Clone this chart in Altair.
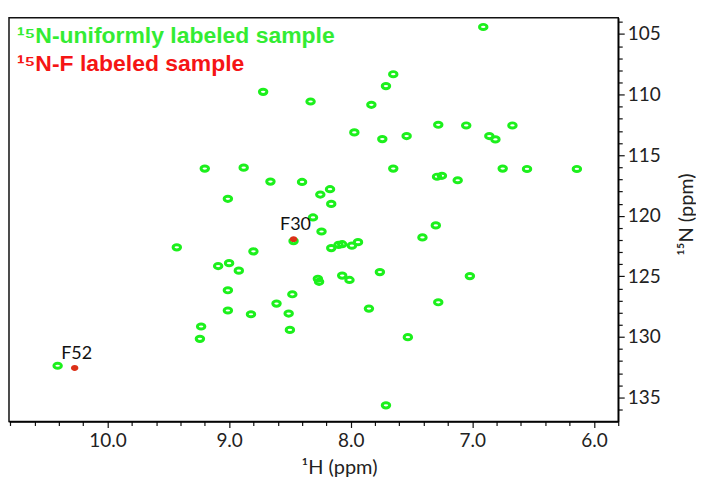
import altair as alt
import pandas as pd

# ---- data ----
green_H = [8.72, 8.33, 7.71, 7.83, 7.97, 7.74, 9.20, 8.88, 8.66, 8.40,
           8.17, 8.25, 8.16, 9.01, 6.91, 7.65, 7.28, 7.05, 6.67, 7.54,
           6.86, 6.81, 7.65, 7.29, 7.25, 7.12, 6.75, 6.55, 6.14, 8.31,
           8.24, 8.47, 9.43, 8.80, 8.16, 8.10, 8.07, 7.99, 7.94, 9.09,
           9.00, 8.92, 7.76, 8.27, 8.26, 8.07, 8.01, 9.01, 8.48, 8.61,
           9.01, 8.82, 8.51, 7.85, 9.23, 8.50, 9.24, 7.30, 7.41, 7.02,
           7.28, 7.53, 7.71, 10.41]
green_N = [109.77, 110.57, 109.30, 110.84, 113.12, 113.67, 116.11, 116.03, 117.18, 117.21,
           117.81, 118.25, 119.02, 118.60, 104.42, 108.32, 112.49, 112.55, 112.55, 113.42,
           113.42, 113.70, 116.11, 116.78, 116.70, 117.07, 116.11, 116.14, 116.14, 120.14,
           121.30, 122.09, 122.61, 122.94, 122.67, 122.40, 122.35, 122.47, 122.18, 124.15,
           123.91, 124.53, 124.65, 125.20, 125.45, 124.94, 125.30, 126.15, 126.48, 127.25,
           127.82, 128.13, 128.07, 127.66, 129.14, 129.42, 130.16, 120.80, 121.79, 124.98,
           127.14, 130.02, 135.65, 132.38]

red_H = [8.47, 10.27]
red_N = [121.93, 132.57]
red_labels = ["F30", "F52"]

x_major = [6.0, 7.0, 8.0, 9.0, 10.0]
y_major = [105, 110, 115, 120, 125, 130, 135]
x_ticks = [round(5.8 + 0.2 * i, 1) for i in range(26)]
y_ticks = list(range(104, 137))

legend_lines = ["¹⁵N-uniformly labeled sample", "¹⁵N-F labeled sample"]
legend_colors = ["#33ec33", "#f51515"]

green_df = pd.DataFrame({"H": green_H, "N": green_N})
red_df = pd.DataFrame({"H": red_H, "N": red_N, "label": red_labels})

W, H = 611, 405

is_major_x = "abs(datum.value - round(datum.value)) < 0.01"
is_major_y = "datum.value % 5 === 0"

x_scale = alt.Scale(domain=[5.80, 10.81], reverse=True, nice=False, zero=False)
y_scale = alt.Scale(domain=[103.65, 136.98], reverse=True, nice=False, zero=False)

x_axis = alt.Axis(
    values=x_ticks,
    labelExpr=f"{is_major_x} ? format(datum.value, '.1f') : ''",
    tickSize={"condition": {"test": is_major_x, "value": 6}, "value": 4},
    grid=False, domainColor="black", domainWidth=1.5,
    tickColor="#111", tickWidth=1.2,
    labelFont="Lato", labelFontSize=19, labelColor="#222",
    labelPadding=4, labelOverlap=False, labelFlush=False,
    title="¹H (ppm)", titleFont="Lato", titleFontSize=20,
    titleFontWeight="normal", titleColor="#222",
    titleX=331, titleY=52, titleBaseline="alphabetic",
)
y_axis = alt.Axis(
    orient="right",
    values=y_ticks,
    labelExpr=f"{is_major_y} ? datum.label : ''",
    tickSize={"condition": {"test": is_major_y, "value": 6}, "value": 4},
    grid=False, domainColor="black", domainWidth=1.5,
    tickColor="#111", tickWidth=1.2,
    labelFont="Lato", labelFontSize=19, labelColor="#222",
    labelPadding=3, labelOverlap=False, labelFlush=False,
    title="¹⁵N (ppm)", titleFont="Lato", titleFontSize=20,
    titleFontWeight="normal", titleColor="#222",
    titleAngle=270, titleX=74, titleY=197, titleBaseline="alphabetic",
)

X = alt.X("H:Q", scale=x_scale, axis=x_axis)
Y = alt.Y("N:Q", scale=y_scale, axis=y_axis)

ellipse = "M-1,0A1,0.7,0,1,1,1,0A1,0.7,0,1,1,-1,0Z"
dot = "M-1,0A1,0.8,0,1,1,1,0A1,0.8,0,1,1,-1,0Z"

green = alt.Chart(green_df).mark_point(
    shape=ellipse, filled=False, size=56, strokeWidth=3,
    color="#1cf01c", opacity=1,
).encode(x=X, y=Y)

red = alt.Chart(red_df).mark_point(
    shape=dot, filled=True, size=55, color="#dc3018", opacity=1,
).encode(x=X, y=Y)

labels = alt.Chart(red_df).mark_text(
    font="Lato", fontSize=18, color="#111", align="center",
    baseline="bottom", dx=2, dy=-5,
).encode(x=X, y=Y, text="label:N")

legend_layers = []
for i, (t, c) in enumerate(zip(legend_lines, legend_colors)):
    legend_layers.append(
        alt.Chart(pd.DataFrame({"t": [t]})).mark_text(
            font="Liberation Sans", fontSize=23, fontWeight="bold",
            align="left", baseline="alphabetic", color=c,
        ).encode(x=alt.value(8), y=alt.value(25 + 28 * i), text="t:N")
    )

chart = alt.layer(green, red, labels, *legend_layers).properties(
    width=W, height=H,
    padding={"left": 1, "top": 4, "right": 0, "bottom": 0},
).configure_view(stroke="#111", strokeWidth=1.5)

chart.save("out.html", embed_options={"renderer": "svg", "actions": False})
